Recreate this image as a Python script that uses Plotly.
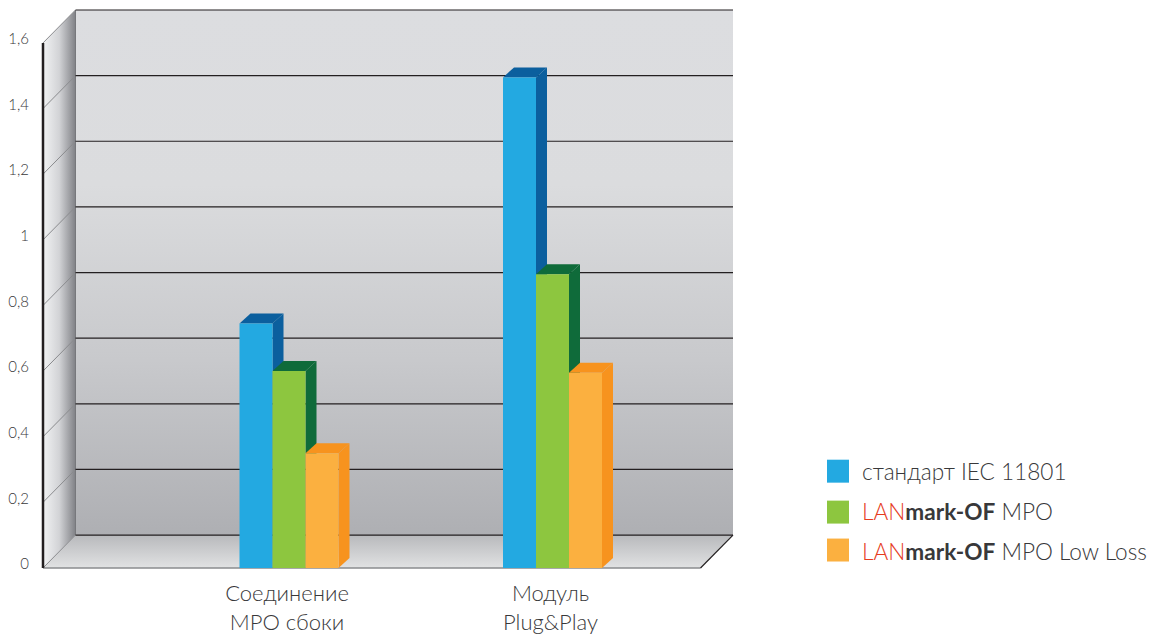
import plotly.graph_objects as go

categories = ["Соединение<br>МРО сбоки", "Модуль<br>Plug&amp;Play"]
series_names = ["стандарт IEC 11801", "LANmark-OF MPO", "LANmark-OF MPO Low Loss"]
legend_labels = [
    "стандарт IEC 11801",
    "<span style='color:#e63c1e'>LAN</span><b>mark-OF</b> MPO",
    "<span style='color:#e63c1e'>LAN</span><b>mark-OF</b> MPO Low Loss",
]
iec_values = [0.745, 1.495]
lanmark_values = [0.6, 0.895]
lowloss_values = [0.35, 0.595]
all_values = [iec_values, lanmark_values, lowloss_values]
tick_values = [0, 0.2, 0.4, 0.6, 0.8, 1, 1.2, 1.4, 1.6]
tick_labels = ["0", "0,2", "0,4", "0,6", "0,8", "1", "1,2", "1,4", "1,6"]
front_colors = ["#23a9e1", "#8dc63f", "#fbb040"]
dark_colors = ["#0b5f9e", "#0f6b3a", "#f7931e"]

FONT = "Lato, 'Noto Sans', sans-serif"
TEXT = "#38383a"
W, H = 1150, 636
# pixel geometry of the plot frame
PAD = 3
X0_PX, Y0_PX = 43, 568.5          # origin of the front edge
WALL_DX, WALL_DY = 32.5, 33       # depth of the room
FRONT_W = 657.5                   # width of the front edge
PX_PER_CAT = 263.5
PX_PER_UNIT = 328.75
CAT0_PX = 289
BAR_PX = 33
BAR_DX, BAR_DY = 11, 10

L = X0_PX - PAD
R = W - (X0_PX + FRONT_W + WALL_DX + PAD)
B = H - (Y0_PX + PAD)
T = 9.5 - PAD
x_of = lambda px: (px - CAT0_PX) / PX_PER_CAT
ux, uy = 1 / PX_PER_CAT, 1 / PX_PER_UNIT
x_left, x_right = x_of(X0_PX), x_of(X0_PX + FRONT_W)
ddx, ddy = WALL_DX * ux, WALL_DY * uy
top = tick_values[-1]
x_range = [x_of(L), x_of(W - R)]
y_range = [-PAD * uy, top + ddy + PAD * uy]

fig = go.Figure()


def poly(xs, ys, **kw):
    fig.add_trace(go.Scatter(x=xs + xs[:1], y=ys + ys[:1], mode="lines", fill="toself",
                             line=dict(width=0), hoverinfo="skip", showlegend=False, **kw))


def grad(kind, stops):
    n = len(stops) - 1
    return dict(type=kind, colorscale=[[i / n, c] for i, c in enumerate(stops)])


def lines(segs, color, width):
    xs, ys = [], []
    for (a, b, c, d) in segs:
        xs += [a, c, None]
        ys += [b, d, None]
    fig.add_trace(go.Scatter(x=xs, y=ys, mode="lines", line=dict(color=color, width=width),
                             hoverinfo="skip", showlegend=False, cliponaxis=False))


# back wall
poly([x_left + ddx, x_right + ddx, x_right + ddx, x_left + ddx], [ddy, ddy, top + ddy, top + ddy],
     fillgradient=grad("vertical", ["#aeafb3", "#c8c9cc", "#dbdcde", "#dcdde0"]))
# floor
poly([x_left, x_right, x_right + ddx, x_left + ddx], [0, 0, ddy, ddy],
     fillgradient=grad("vertical", ["#e1e2e3", "#b8b9bc"]))
# side wall
poly([x_left, x_left + ddx, x_left + ddx, x_left], [0, ddy, top + ddy, top],
     fillgradient=grad("horizontal", ["#f2f3f4", "#d2d3d6", "#808186"]))

lines([(x_left, v, x_left + ddx, v + ddy) for v in tick_values], "#8a8b8e", 1)
lines([(x_left + ddx, 0 + ddy, x_left + ddx, top + ddy)], "#77787c", 1)
lines([(x_left, 0, x_right, 0)], "#8a8b8e", 1.5)
lines([(x_left + ddx, v + ddy, x_right + ddx, v + ddy) for v in tick_values], "#231f20", 1.2)
lines([(x_right, 0, x_right + ddx, ddy)], "#231f20", 1.2)
lines([(x_left, 0, x_left, top)], "#231f20", 2.5)

# depth faces of the bars
bw = BAR_PX * ux
bdx, bdy = BAR_DX * ux, BAR_DY * uy
for s, vals in enumerate(all_values):
    for c, v in enumerate(vals):
        xa = c + (s - 1.5) * bw
        xb = xa + bw
        poly([xb, xb + bdx, xb + bdx, xb], [0, bdy, v + bdy, v], fillcolor=dark_colors[s])
        poly([xa, xa + bdx, xb + bdx, xb], [v, v + bdy, v + bdy, v], fillcolor=dark_colors[s])

# front faces of the bars, on an overlaid pair of axes so they sit above everything
for s, vals in enumerate(all_values):
    fig.add_trace(go.Bar(x=[0, 1], y=vals, name=series_names[s], marker=dict(color=front_colors[s], line=dict(width=0)),
                         xaxis="x2", yaxis="y2", showlegend=False))

plot_w = W - L - R
plot_h = H - T - B
px = lambda p: (p - L) / plot_w
py = lambda p: 1 - (p - T) / plot_h

swatch_rows_px = [471.5, 512.5, 550.5]
text_rows_px = [471.5, 512, 551.5]
for i, lab in enumerate(legend_labels):
    fig.add_shape(type="rect", xref="paper", yref="paper", x0=px(827), x1=px(849),
                  y0=py(swatch_rows_px[i] - 11.5), y1=py(swatch_rows_px[i] + 11.5),
                  fillcolor=front_colors[i], line=dict(width=0))
    fig.add_annotation(xref="paper", yref="paper", x=px(860), y=py(text_rows_px[i]), xanchor="left", yanchor="middle",
                       text=lab, showarrow=False, align="left",
                       font=dict(family=FONT, size=22.6, color=TEXT, weight=300))

fig.update_layout(
    width=W, height=H, autosize=False,
    margin=dict(l=L, r=R, t=T, b=B, pad=0),
    paper_bgcolor="white", plot_bgcolor="white",
    barmode="group", bargap=1 - 3 * BAR_PX / PX_PER_CAT, bargroupgap=0,
    xaxis=dict(range=x_range, tickmode="array", tickvals=[0, 1], ticktext=categories, showgrid=False,
               zeroline=False, showline=False, ticks="", ticklabelstandoff=7, ticklabelshift=-2, automargin=False,
               tickfont=dict(family=FONT, size=22, color=TEXT, weight=300)),
    yaxis=dict(range=y_range, tickmode="array", tickvals=tick_values, ticktext=tick_labels, showgrid=False,
               zeroline=False, showline=False, ticks="", ticklabelstandoff=10, ticklabelshift=-4, automargin=False,
               tickfont=dict(family=FONT, size=15, color=TEXT, weight=300)),
    xaxis2=dict(range=x_range, overlaying="x", visible=False, automargin=False),
    yaxis2=dict(range=y_range, overlaying="y", visible=False, automargin=False),
)
fig.write_html("out.html", post_script="document.body.style.margin='0';", config={"displayModeBar": False})
